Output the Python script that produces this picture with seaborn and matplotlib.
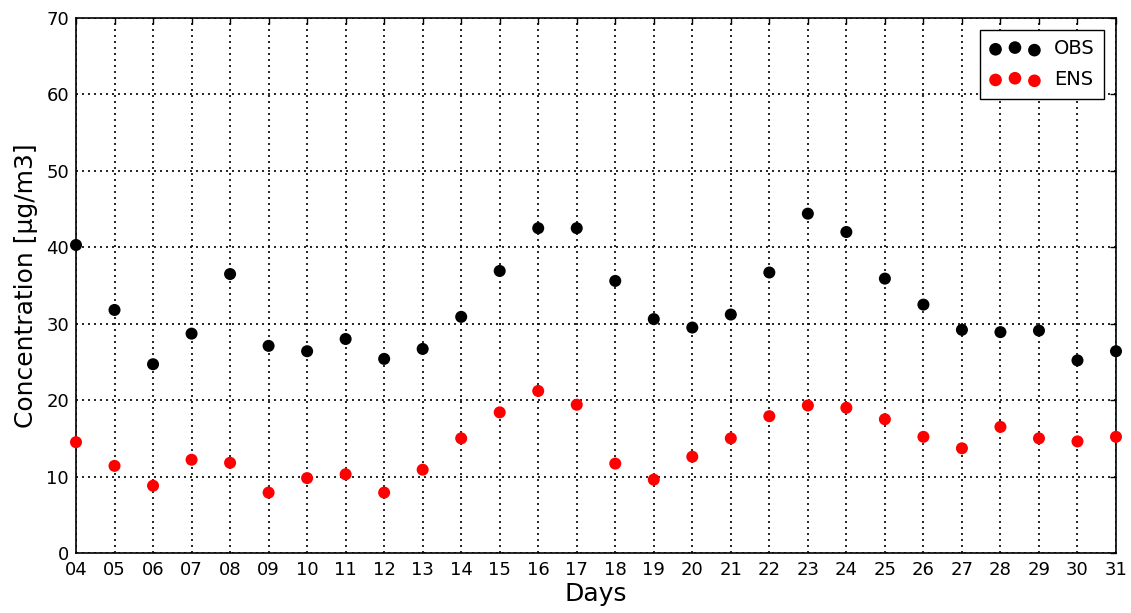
import numpy as np
import pandas as pd
import matplotlib
matplotlib.use("Agg")
import matplotlib.pyplot as plt
import seaborn as sns

days = ["04", "05", "06", "07", "08", "09", "10", "11", "12", "13", "14", "15", "16", "17",
        "18", "19", "20", "21", "22", "23", "24", "25", "26", "27", "28", "29", "30", "31"]
obs = [40.3, 31.8, 24.7, 28.7, 36.5, 27.1, 26.4, 28.0, 25.4, 26.7, 30.9, 36.9, 42.5, 42.5,
       35.6, 30.6, 29.5, 31.2, 36.7, 44.4, 42.0, 35.9, 32.5, 29.2, 28.9, 29.1, 25.2, 26.4]
ens = [14.5, 11.4, 8.8, 12.2, 11.8, 7.9, 9.8, 10.3, 7.9, 10.9, 15.0, 18.4, 21.2, 19.4,
       11.7, 9.6, 12.6, 15.0, 17.9, 19.3, 19.0, 17.5, 15.2, 13.7, 16.5, 15.0, 14.6, 15.2]
series_names = ["OBS", "ENS"]
series_colors = ["black", "red"]

x = np.arange(4, 4 + len(days))
df_obs = pd.DataFrame({"day": x, "value": obs})
df_ens = pd.DataFrame({"day": x, "value": ens})

sns.set_theme(style="white")
plt.rcParams["font.family"] = ["DejaVu Sans"]
plt.rcParams["text.color"] = "black"
plt.rcParams["axes.labelcolor"] = "black"
plt.rcParams["xtick.color"] = "black"
plt.rcParams["ytick.color"] = "black"

fig = plt.figure(figsize=(11.31, 6.13), dpi=100)
ax = fig.add_axes([76 / 1131, 1 - 553 / 613, (1116 - 76) / 1131, (553 - 18) / 613])

sns.scatterplot(data=df_obs, x="day", y="value", color=series_colors[0], s=75,
                edgecolor="none", ax=ax, legend=False, zorder=3, clip_on=False)
sns.scatterplot(data=df_ens, x="day", y="value", color=series_colors[1], s=75,
                edgecolor="none", ax=ax, legend=False, zorder=3, clip_on=False)

ax.set_xlim(4, 31)
ax.set_ylim(0, 70)
ax.set_xticks(x)
ax.set_xticklabels(days)
ax.set_yticks(np.arange(0, 71, 10))
ax.tick_params(axis="both", which="major", direction="in", length=4, width=1,
               labelsize=13, top=True, right=True, colors="black")
ax.tick_params(axis="x", pad=6)
ax.tick_params(axis="y", pad=5)
ax.grid(True, linestyle=(0, (1.2, 2.4)), color="black", linewidth=1.2)
ax.set_axisbelow(True)
for sp in ax.spines.values():
    sp.set_color("black")
    sp.set_linewidth(1.2)
    sp.set_visible(True)

ax.set_xlabel("Days", fontsize=18, color="black", labelpad=2)
ax.set_ylabel("Concentration [µg/m3]", fontsize=18, color="black", labelpad=6)

leg = ax.legend(handles=ax.collections[:2], labels=series_names, loc="upper right",
                scatterpoints=3, scatteryoffsets=[0.375, 0.5, 0.3125], fontsize=14,
                fancybox=False, framealpha=1, edgecolor="black", borderaxespad=0.6,
                handletextpad=0.7, borderpad=0.5, handlelength=2.6, markerscale=1.05,
                labelspacing=0.6, labelcolor="black")
leg.get_frame().set_linewidth(1)

fig.savefig("out.png", dpi=100)
